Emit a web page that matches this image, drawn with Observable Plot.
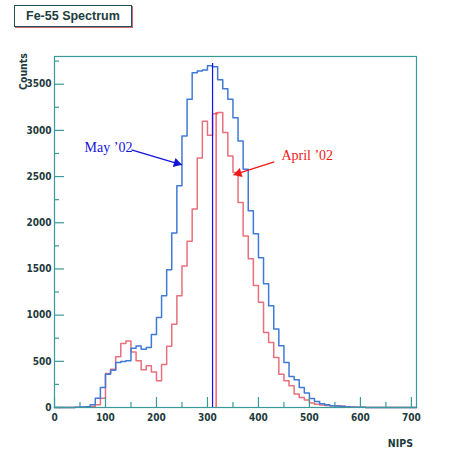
<!DOCTYPE html>
<html><head><meta charset="utf-8">
<script src="https://cdn.jsdelivr.net/npm/d3@7"></script>
<script src="https://cdn.jsdelivr.net/npm/@observablehq/plot@0.6"></script>
<style>
body{margin:0;background:#fff;}
#wrap{position:relative;width:449px;height:450px;}
#title{position:absolute;left:14px;top:5px;width:105px;height:20px;border:1.5px solid #1f4f52;box-shadow:1px 1px 0 #d06a72;
 font:bold 12.5px "Liberation Sans", Arial, sans-serif;color:#1c3e40;line-height:20px;padding-left:11px;}
</style></head><body>
<div id="wrap"><div id="title">Fe-55 Spectrum</div></div>
<script>
// bin lower edges (NIPS), bin width 10
const binStart = [0,10,20,30,40,50,60,70,80,90,
 100,110,120,130,140,150,160,170,180,190,
 200,210,220,230,240,250,260,270,280,290,
 300,310,320,330,340,350,360,370,380,390,
 400,410,420,430,440,450,460,470,480,490,
 500,510,520,530,540,550,560,570,580,590,
 600,610,620,630,640,650,660,670,680,690,700];
const binWidth = 10;
// May '02 counts (blue)
const mayCounts = [0,0,0,0,3,5,8,30,100,216,
 361,404,487,498,505,642,667,631,649,790,
 974,1209,1490,1890,2400,2940,3337,3625,3644,3655,
 3700,3690,3547,3452,3337,3138,2886,2580,2129,1880,
 1620,1340,1101,849,668,487,336,300,216,156,
 97,65,40,30,20,15,10,6,4,3,
 2,1,1,1,0,1,0,0,0,0,0];
// April '02 counts (red)
const aprilCounts = [0,0,0,0,2,3,5,10,30,100,
 368,415,550,692,721,600,505,410,451,385,
 289,465,662,900,1210,1533,1800,2150,2700,3100,
 2948,3180,3195,2976,2724,2543,2219,1858,1610,1320,
 1140,812,704,541,361,289,235,145,108,80,
 50,35,28,22,20,20,15,8,5,3,
 2,1,1,1,1,0,0,0,0,0,0];
// vertical marker lines
const markerX = [310, 317];
const markerTop = [3725, 3195];
const markerSeries = ["May", "April"];
// axis ticks
const xMajor = [0,100,200,300,400,500,600,700];
const xMinor = [50,150,250,350,450,550,650];
const yMajor = [0,500,1000,1500,2000,2500,3000,3500];
const yMinor = [250,750,1250,1750,2250,2750,3250,3750];
// annotations (data coordinates)
const labelText = ["May \u201902", "April \u201902"];
const labelX = [59, 445];
const labelY = [2811, 2724];
const arrowX1 = [151, 431];
const arrowY1 = [2790, 2659];
const arrowX2 = [250, 351];
const arrowY2 = [2628, 2518];

const BLUE = "#3f7ad6", RED = "#e8707c", AX = "#3a9a9a", TXT = "#1e3a3c";
const W = 449, H = 450, mL = 54, mR = 33, mT = 56, mB = 43;
const innerW = W - mL - mR, innerH = H - mT - mB;

function steps(counts) {
  const pts = binStart.map((b, i) => ({x: b, y: counts[i]}));
  pts.push({x: binStart[binStart.length - 1] + binWidth, y: counts[counts.length - 1]});
  return pts;
}
const markers = markerX.map((x, i) => ({x, top: markerTop[i], s: markerSeries[i]}));
const labels = labelText.map((t, i) => ({text: t, x: labelX[i], y: labelY[i], c: i === 0 ? "#1414d8" : "#f01818"}));
const arrows = arrowX1.map((x1, i) => ({x1, y1: arrowY1[i], x2: arrowX2[i], y2: arrowY2[i], c: i === 0 ? "#1414d8" : "#f01818"}));

const plot = Plot.plot({
  width: W, height: H,
  marginLeft: mL, marginRight: mR, marginTop: mT, marginBottom: mB,
  x: {domain: [0, 710]},
  y: {domain: [0, 3800]},
  style: {fontFamily: "'Liberation Sans Narrow', 'DejaVu Sans Condensed', sans-serif", fontSize: "10px", fontWeight: "bold", background: "#fff"},
  marks: [
    Plot.line(steps(aprilCounts), {x: "x", y: "y", curve: "step-after", stroke: RED, strokeWidth: 1.5}),
    Plot.line(steps(mayCounts), {x: "x", y: "y", curve: "step-after", stroke: BLUE, strokeWidth: 1.5}),
    Plot.ruleX(markers, {x: "x", y1: 0, y2: "top", stroke: d => d.s === "May" ? "#1010f0" : "#ff3a3a", strokeWidth: 1.2}),
    Plot.frame({stroke: AX, strokeWidth: 1.2}),
    Plot.ruleY(yMajor, {y: d => d, stroke: AX, strokeWidth: 1.2, insetRight: innerW - 10}),
    Plot.ruleY(yMinor, {y: d => d, stroke: AX, strokeWidth: 1.2, insetRight: innerW - 5}),
    Plot.ruleX(xMajor, {x: d => d, stroke: AX, strokeWidth: 1.2, insetTop: innerH - 10}),
    Plot.ruleX(xMinor, {x: d => d, stroke: AX, strokeWidth: 1.2, insetTop: innerH - 5}),
    Plot.axisY(yMajor, {tickSize: 0, tickPadding: 3, label: null, fill: TXT, tickFormat: d => String(d)}),
    Plot.axisX(xMajor, {tickSize: 0, tickPadding: 6, label: null, fill: TXT, tickFormat: d => String(d)}),
    Plot.link(arrows, {x1: "x1", y1: "y1", x2: "x2", y2: "y2", stroke: "c", strokeWidth: 1.3}),
    Plot.dot([arrows[0]], {x: "x2", y: "y2", symbol: "triangle", r: 3.5, rotate: 106.6, fill: "c", stroke: null, dx: -5.2, dy: -1.5}),
    Plot.dot([arrows[1]], {x: "x2", y: "y2", symbol: "triangle", r: 3.5, rotate: -107.6, fill: "c", stroke: null, dx: 5.1, dy: -1.6}),
    Plot.text(labels, {x: "x", y: "y", text: "text", fill: "c", textAnchor: "start", fontFamily: "'Liberation Serif', 'Times New Roman', serif", fontSize: 14, fontWeight: "normal"})
  ]
});
const svg = d3.select(plot);
svg.append("text").attr("transform", "translate(27,53) rotate(-90)").attr("text-anchor", "end")
  .attr("fill", TXT).style("font-size", "10.5px").style("font-weight", "bold").text("Counts");
svg.append("text").attr("x", 413).attr("y", 447).attr("text-anchor", "end")
  .attr("fill", TXT).style("font-size", "10.5px").style("font-weight", "bold").text("NIPS");
document.getElementById("wrap").prepend(plot);
</script>
</body></html>
